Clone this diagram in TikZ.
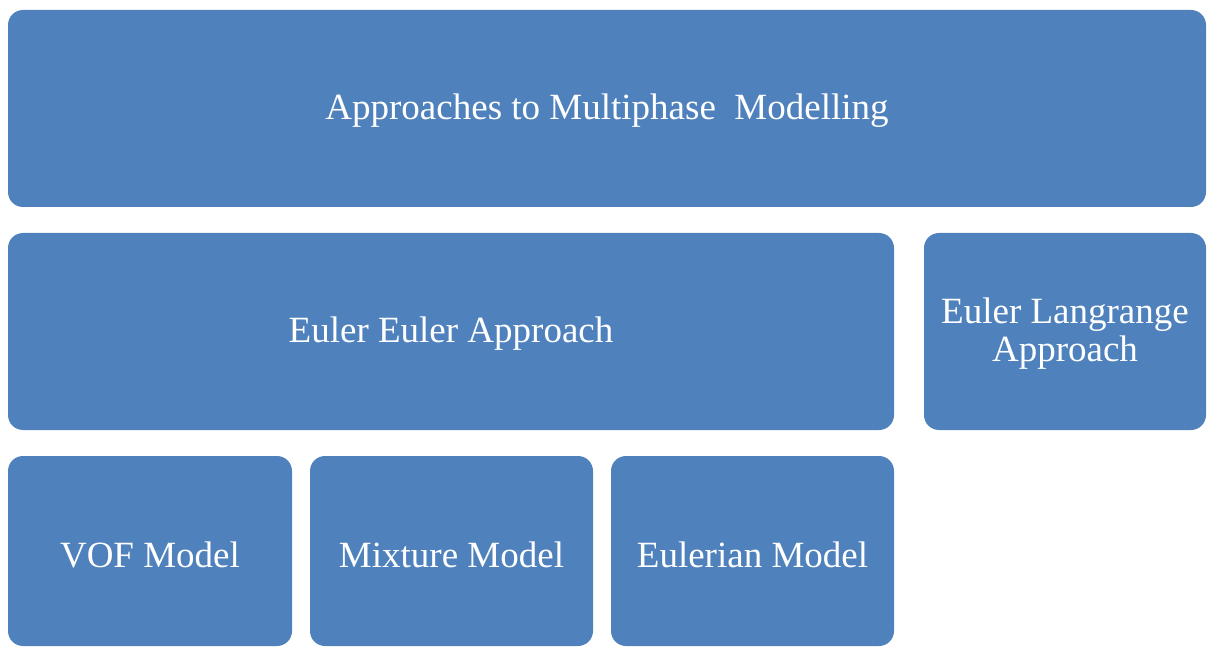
\documentclass[tikz,border=0pt]{standalone}
\usepackage{fontspec}
\setmainfont{Liberation Serif}
\definecolor{boxblue}{HTML}{4F81BD}
\begin{document}
\begin{tikzpicture}[x=1pt,y=-1pt,
  blk/.style={fill=boxblue, draw=none, rounded corners=15pt, text=white, inner sep=0pt, align=center,
    font=\fontsize{37}{38}\selectfont}]
\useasboundingbox (0,0) rectangle (1208,647);
\node[blk, minimum width=1198pt, minimum height=197pt] (top) at (607,108.5) {};
\node[text=white, font=\fontsize{37}{38}\selectfont] (toplabel) at (607,111) {Approaches to Multiphase\ \ Modelling};
\node[blk, minimum width=886pt, minimum height=197pt] (ee) at (451,331.5) {};
\node[text=white, font=\fontsize{37}{38}\selectfont] (eelabel) at (451,334) {Euler Euler Approach};
\node[blk, minimum width=282pt, minimum height=197pt] (el) at (1065,331.5) {};
\node[text=white, align=center, font=\fontsize{37}{38}\selectfont] (ellabel) at (1065,334) {Euler Langrange\\Approach};
\node[blk, minimum width=284pt, minimum height=190pt] (vof) at (150,551) {};
\node[text=white, font=\fontsize{37}{38}\selectfont] (voflabel) at (150,555) {VOF Model};
\node[blk, minimum width=283pt, minimum height=190pt] (mix) at (451.5,551) {};
\node[text=white, font=\fontsize{37}{38}\selectfont] (mixlabel) at (451.5,555) {Mixture Model};
\node[blk, minimum width=283pt, minimum height=190pt] (eul) at (752.5,551) {};
\node[text=white, font=\fontsize{37}{38}\selectfont] (eullabel) at (752.5,555) {Eulerian Model};
\end{tikzpicture}
\end{document}
